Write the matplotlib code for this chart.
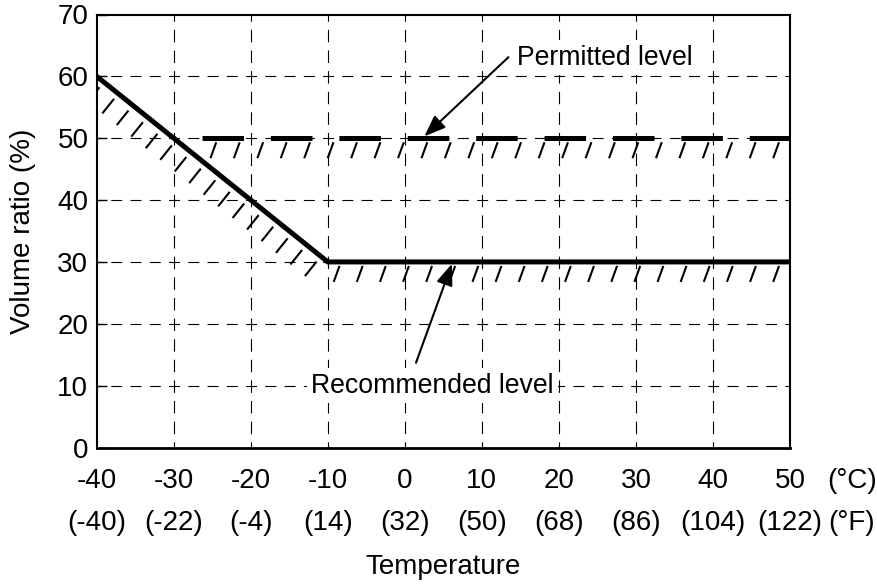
import matplotlib
matplotlib.use('Agg')
import matplotlib.pyplot as plt
import matplotlib.patheffects as pe

plt.rcParams['font.family'] = ['Liberation Sans', 'DejaVu Sans']
plt.rcParams['lines.scale_dashes'] = False

# ---- data ----
celsius = [-40, -30, -20, -10, 0, 10, 20, 30, 40, 50]
fahrenheit = [-40, -22, -4, 14, 32, 50, 68, 86, 104, 122]
y_ticks = [0, 10, 20, 30, 40, 50, 60, 70]

rec_temp = [-40, -10, 50]
rec_level = [60, 30, 30]
perm_temp = [-30, 50]
perm_level = [50, 50]
perm_hatch_temp = [-26, 50]

# ---- layout ----
W, H = 878, 585
fig = plt.figure(figsize=(W / 100, H / 100), dpi=100)
L, R, T, B = 96.7, 790.0, 14.5, 447.5
ax = fig.add_axes([L / W, 1 - B / H, (R - L) / W, (B - T) / H])
ax.set_xlim(-40, 50)
ax.set_ylim(0, 70)

PT = 0.72  # points per pixel
fs_tick = 20
fs_note = 19.2

# grid lines, dashes centered on crossings
hper = (R - L) / 9 / 4
hon = 11.0
for yv in y_ticks[1:-1]:
    ax.axhline(yv, color='k', lw=0.8,
               linestyle=(hon / 2 * PT, (hon * PT, (hper - hon) * PT)), zorder=1)
vper = (B - T) / 7 / 3
von = 12.5
for xv in celsius[1:-1]:
    ax.axvline(xv, color='k', lw=0.8,
               linestyle=(von / 2 * PT, (von * PT, (vper - von) * PT)), zorder=1)

for name, s in ax.spines.items():
    s.set_linewidth(2.0 if name == 'bottom' else 1.5)
    s.set_color('k')

ax.set_yticks(y_ticks)
ax.tick_params(axis='y', direction='in', length=7, width=1, labelsize=fs_tick, pad=6)
ax.set_xticks(celsius)
ax.tick_params(axis='x', length=0, labelbottom=False)

# recommended level (solid)
ax.plot(rec_temp, rec_level, color='k', lw=5 * PT, solid_joinstyle='miter',
        solid_capstyle='butt', zorder=4)
# permitted level (thick dashed)
on, off = 41.5, 26.9
start_px = L + (perm_temp[0] + 40) * (R - L) / 90
dash_off = (start_px - 133.4)
ax.plot(perm_temp, perm_level, color='k', lw=5 * PT,
        linestyle=(dash_off * PT, (on * PT, off * PT)), dash_capstyle='butt', zorder=4)

# hatching
ax.plot(rec_temp[:2], rec_level[:2], color='k', lw=1.5,
        path_effects=[pe.TickedStroke(offset=(-3.5, -4.4), spacing=18 * PT,
                                      angle=-90, length=16.5 / 18)], zorder=4)
ax.plot(rec_temp[1:], rec_level[1:], color='k', lw=1.5,
        path_effects=[pe.TickedStroke(offset=(0, -5 * PT), spacing=22.7 * PT,
                                      angle=-110, length=14.9 / 22.7)], zorder=4)
ax.plot(perm_hatch_temp, perm_level, color='k', lw=1.5,
        path_effects=[pe.TickedStroke(offset=(0, -5 * PT), spacing=22.7 * PT,
                                      angle=-110, length=14.9 / 22.7)], zorder=4)

# annotations
arrow = dict(arrowstyle='-|>,head_length=0.65,head_width=0.25', mutation_scale=20,
             color='k', lw=1.5, shrinkA=0, shrinkB=0)
ax.annotate('', xy=(2.53, 50.3), xytext=(13.45, 63.1), arrowprops=arrow, zorder=5)
ax.annotate('', xy=(6.11, 29.7), xytext=(1.45, 13.7), arrowprops=arrow, zorder=5)
box = dict(facecolor='white', edgecolor='none', pad=3)
ax.text(14.6, 61.9, 'Permitted level', fontsize=fs_note, ha='left', va='baseline',
        bbox=box, zorder=3)
ax.text(-12.15, 8.87, 'Recommended level', fontsize=fs_note, ha='left', va='baseline',
        bbox=box, zorder=3)

# x tick labels in two rows
trans = ax.get_xaxis_transform()
yC = (B - 481) / (B - T)
yF = (B - 523) / (B - T)
for c, f in zip(celsius, fahrenheit):
    ax.text(c, yC, str(c), transform=trans, ha='center', va='center',
            fontsize=fs_tick, clip_on=False)
    ax.text(c, yF, '(' + str(f) + ')', transform=trans, ha='center', va='center',
            fontsize=fs_tick, clip_on=False)
ax.text(58, yC, '(°C)', transform=trans, ha='center', va='center', fontsize=fs_tick, clip_on=False)
ax.text(58, yF, '(°F)', transform=trans, ha='center', va='center', fontsize=fs_tick, clip_on=False)

fig.text(23 / W, 1 - 231 / H, 'Volume ratio (%)', rotation=90, ha='center',
         va='center', fontsize=fs_tick)
fig.text((L + R) / 2 / W, 1 - 567 / H, 'Temperature', ha='center', va='center',
         fontsize=fs_tick)

fig.savefig('out.png', dpi=100)
